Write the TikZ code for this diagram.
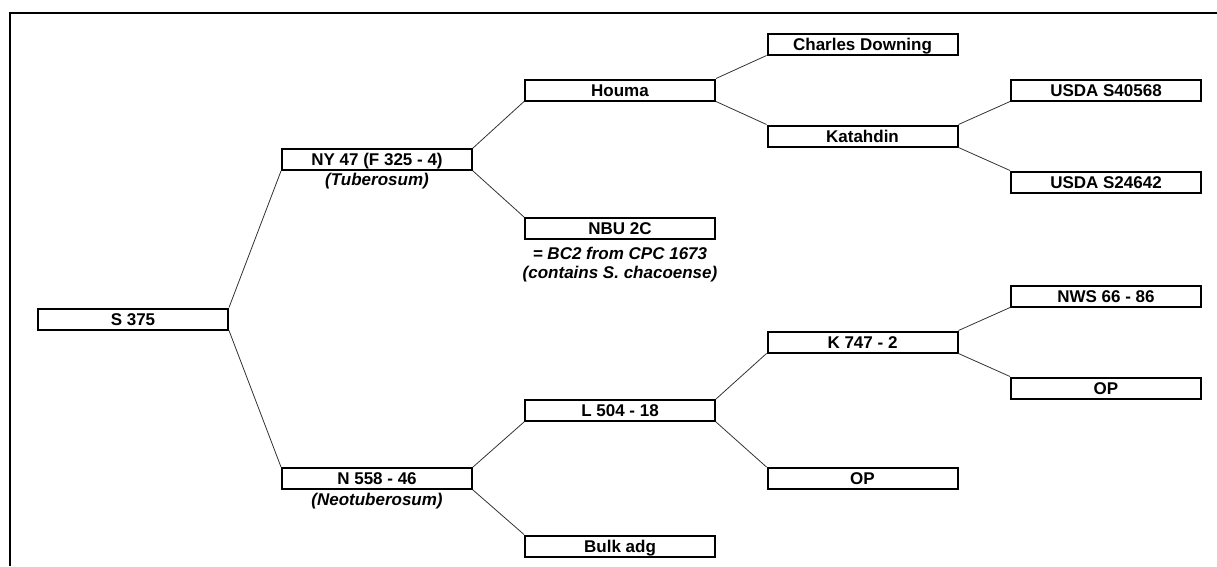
\documentclass[tikz,border=0pt]{standalone}
\usepackage{fontspec}
\setmainfont{Liberation Sans}
\begin{document}
\begin{tikzpicture}[x=1pt,y=-1pt,
  box/.style={draw=black, line width=2pt, minimum width=190pt, minimum height=21pt, inner sep=0pt, text height=12pt, text depth=0pt, font=\fontsize{17}{18}\selectfont\bfseries},
  sub/.style={anchor=north, inner sep=0pt, align=center, font=\fontsize{17}{19}\selectfont\bfseries\itshape},
  link/.style={draw=black!80, line width=0.8pt}]
\useasboundingbox (0,0) rectangle (1217,566);
\draw[line width=1.5pt] (1217,13) -- (10,13) -- (10,566);
% nodes
\node[box] (s375) at (133,319) {S 375};
\node[box] (ny47) at (377,159.5) {NY 47 (F 325 - 4)};
\node[box] (n558) at (377,478.5) {N 558 - 46};
\node[box] (houma) at (620,90) {Houma};
\node[box] (nbu) at (620,228.5) {NBU 2C};
\node[box] (l504) at (620,410.5) {L 504 - 18};
\node[box] (bulk) at (620,546) {Bulk adg};
\node[box] (charles) at (862.5,44) {Charles Downing};
\node[box] (katahdin) at (862.5,136) {Katahdin};
\node[box] (k747) at (862.5,342) {K 747 - 2};
\node[box] (opmid) at (862.5,478.5) {OP};
\node[box] (usda1) at (1106,90) {USDA S40568};
\node[box] (usda2) at (1106,182) {USDA S24642};
\node[box] (nws) at (1106,296) {NWS 66 - 86};
\node[box] (opright) at (1106,388) {OP};
% subtitles
\node[sub] (tub) at ([yshift=-2pt]ny47.south) {(Tuberosum)};
\node[sub] (nbusub) at ([yshift=-7pt]nbu.south) {= BC2 from CPC 1673\\(contains S. chacoense)};
\node[sub] (neo) at ([yshift=-3pt]n558.south) {(Neotuberosum)};
% connectors
\draw[link] (s375.north east) -- (ny47.south west);
\draw[link] (s375.south east) -- (n558.north west);
\draw[link] (ny47.north east) -- (houma.south west);
\draw[link] (ny47.south east) -- (nbu.north west);
\draw[link] (houma.north east) -- (charles.south west);
\draw[link] (houma.south east) -- (katahdin.north west);
\draw[link] (katahdin.north east) -- (usda1.south west);
\draw[link] (katahdin.south east) -- (usda2.north west);
\draw[link] (n558.north east) -- (l504.south west);
\draw[link] (n558.south east) -- (bulk.north west);
\draw[link] (l504.north east) -- (k747.south west);
\draw[link] (l504.south east) -- (opmid.north west);
\draw[link] (k747.north east) -- (nws.south west);
\draw[link] (k747.south east) -- (opright.north west);
\end{tikzpicture}
\end{document}
